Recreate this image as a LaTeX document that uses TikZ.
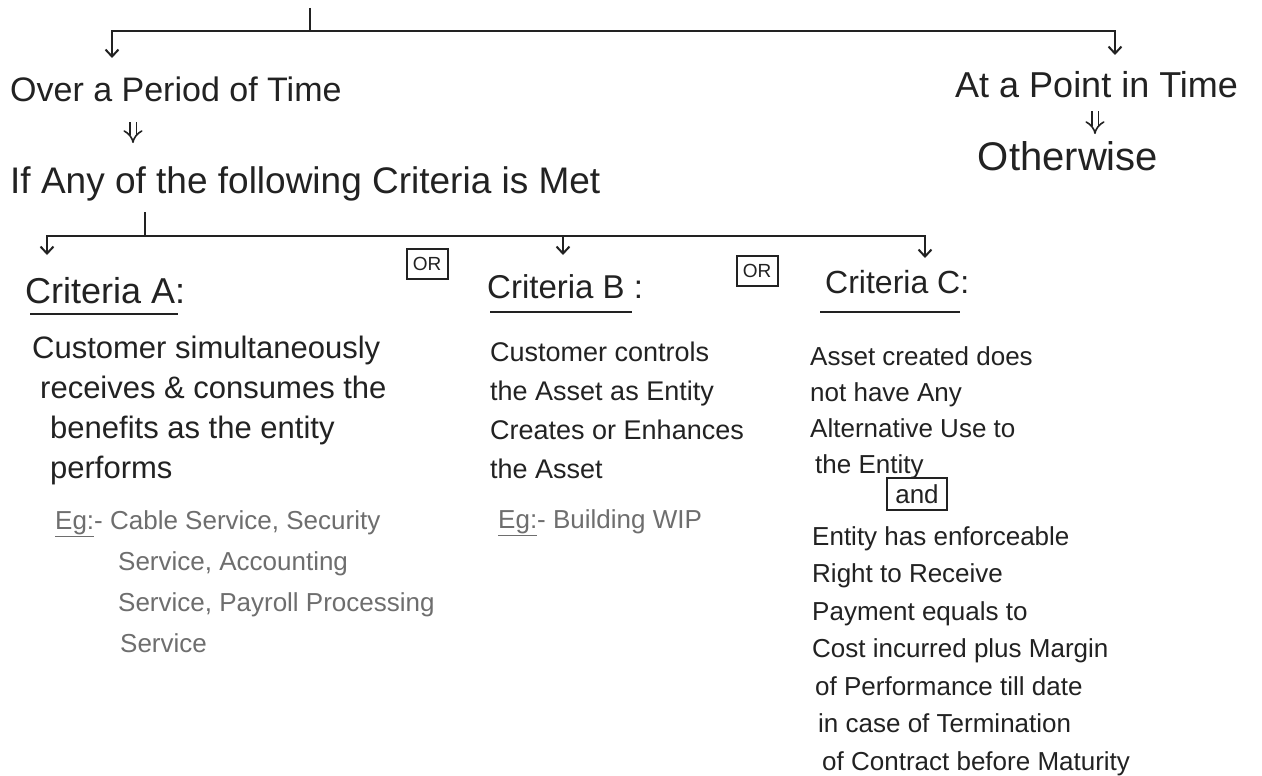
\documentclass[tikz,border=0pt]{standalone}
\usepackage{fontspec}
\setmainfont{Liberation Sans}
\usepackage{tikz}
\usetikzlibrary{arrows.meta,positioning,calc}
\definecolor{ink}{HTML}{222222}
\definecolor{exgray}{HTML}{6E6E6E}
\newcommand{\fs}[2]{\fontsize{#1}{#2}\selectfont}

\begin{document}
\begin{tikzpicture}[x=1pt,y=-1pt,>={Straight Barb[length=7pt,width=13pt]},
  ln/.style={line width=2pt,ink},
  arr/.style={->,ln},
  dbl/.style={draw=ink,double=white,double distance=5pt,line width=1.6pt,-{Implies[scale=2.2]}},
  hd/.style={anchor=base west,inner sep=0pt,text=ink},
  body/.style={anchor=base west,inner sep=0pt,align=left,text=ink},
  ex/.style={anchor=base west,inner sep=0pt,align=left,text=exgray,font=\fs{26}{41}},
  uline/.style={line width=2pt,ink},
  orbox/.style={draw=ink,line width=2pt,minimum width=41pt,minimum height=30pt,
                inner sep=0pt,text=ink,font=\fs{19}{19}}]
\path[fill=white] (0,0) rectangle (1262,776);
\useasboundingbox (0,0) rectangle (1262,776);
% ---------------- top split
\coordinate (root) at (310,8);
\coordinate (fork1) at (310,31);
\node[hd,font=\fs{34}{40}] (over) at (10,102) {Over a Period of Time};
\node[hd,font=\fs{36}{40}] (point) at (955,97) {At a Point in Time};
\node[hd,font=\fs{37}{40}] (ifany) at (10,193) {If Any of the following Criteria is Met};
\node[hd,anchor=base,font=\fs{40}{44}] (otherwise) at (1068,170) {Otherwise};
\draw[ln] (root) -- (fork1);
\draw[arr] (fork1) -| ([xshift=102pt,yshift=44pt]over.base west);
\draw[arr] (fork1) -| ([xshift=160pt,yshift=42pt]point.base west);
\draw[dbl] ([xshift=123pt,yshift=-20pt]over.base west) -- ([xshift=123pt,yshift=50pt]ifany.base west);
\draw[dbl] ([xshift=140pt,yshift=-14pt]point.base west) -- ([xshift=27pt,yshift=36pt]otherwise.base);
% ---------------- criteria split
\coordinate (fork2) at (145,236);
\node[hd,font=\fs{36}{40}] (critA) at (25,303) {Criteria A:};
\node[hd,font=\fs{33}{40}] (critB) at (487,298) {Criteria B :};
\node[hd,font=\fs{32}{40}] (critC) at (825,293) {Criteria C:};
\node[orbox] (or1) at (427,264) {OR};
\node[orbox] (or2) at (757,271) {OR};
\draw[ln] ([xshift=135pt,yshift=-19pt]ifany.base west) -- (fork2);
\draw[arr] (fork2) -| ([xshift=22pt,yshift=48pt]critA.base west);
\draw[arr] (fork2) -| ([xshift=76pt,yshift=43pt]critB.base west);
\draw[arr] (fork2) -| ([xshift=100pt,yshift=35pt]critC.base west);
\draw[uline] ([xshift=5pt,yshift=-11pt]critA.base west) -- ([xshift=-7pt,yshift=-11pt]critA.base east);
\draw[uline] ([xshift=3pt,yshift=-14pt]critB.base west) -- ([xshift=-11pt,yshift=-14pt]critB.base east);
\draw[uline] ([xshift=-5pt,yshift=-19pt]critC.base west) -- ([xshift=-9pt,yshift=-19pt]critC.base east);
% ---------------- criteria A
\node[body,font=\fs{31}{40}] (bodyA) at (32,478) {Customer simultaneously\\
  \hspace*{8pt}receives \& consumes the\\\hspace*{18pt}benefits as the entity\\
  \hspace*{18pt}performs};
\node[ex] (egA) at (55,652) {\underline{Eg:}- Cable Service, Security\\
  \hspace*{63pt}Service, Accounting\\\hspace*{63pt}Service, Payroll Processing\\
  \hspace*{65pt}Service};
% ---------------- criteria B
\node[body,font=\fs{27}{39}] (bodyB) at (490,478) {Customer controls\\the Asset as Entity\\
  Creates or Enhances\\the Asset};
\node[ex] (egB) at (498,528) {\underline{Eg:}- Building WIP};
% ---------------- criteria C
\node[body,font=\fs{26}{36}] (condC) at (810,473) {Asset created does\\not have Any\\
  Alternative Use to\\\hspace*{5pt}the Entity};
\node[orbox,minimum width=60pt,minimum height=32pt,font=\fs{26}{26}] (andC) at (917,494) {and};
\node[body,font=\fs{26}{37.5}] (rightC) at (812,770) {Entity has enforceable\\Right to Receive\\
  Payment equals to\\Cost incurred plus Margin\\\hspace*{3pt}of Performance till date\\
  \hspace*{6pt}in case of Termination\\\hspace*{10pt}of Contract before Maturity};
\end{tikzpicture}
\end{document}
